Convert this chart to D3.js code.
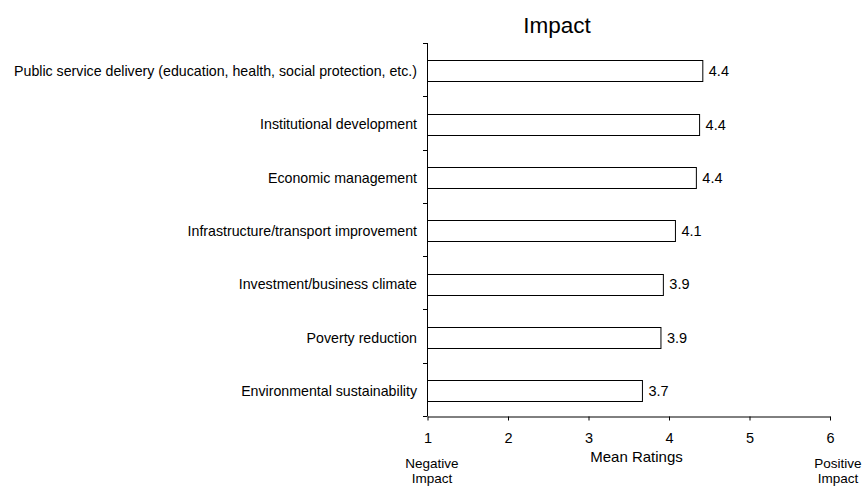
<!DOCTYPE html>
<html><head><meta charset="utf-8">
<script src="https://cdn.jsdelivr.net/npm/d3@7"></script>
<style>body{margin:0;background:#fff;}svg{display:block;font-family:"Liberation Sans",Arial,sans-serif;}</style>
</head><body><svg id="c" width="865" height="487"></svg>
<script>
const categories = [
  "Public service delivery (education, health, social protection, etc.)",
  "Institutional development",
  "Economic management",
  "Infrastructure/transport improvement",
  "Investment/business climate",
  "Poverty reduction",
  "Environmental sustainability"
];
const values = [4.42, 4.38, 4.34, 4.08, 3.93, 3.90, 3.67];
const valueLabels = ["4.4", "4.4", "4.4", "4.1", "3.9", "3.9", "3.7"];
const xTicks = [1, 2, 3, 4, 5, 6];
const title = "Impact";
const xTitle = "Mean Ratings";
const leftNote = ["Negative", "Impact"];
const rightNote = ["Positive", "Impact"];

const svg = d3.select("#c");
const x = d3.scaleLinear().domain([1, 6]).range([427.5, 830]);
const y = d3.scaleBand().domain(categories).range([43, 416]).paddingInner(0.6).paddingOuter(0.3);
const step = y.step();
const y0 = 43, y1 = 416;

// bars
svg.append("g").selectAll("rect").data(categories).join("rect")
  .attr("x", x(1))
  .attr("y", d => Math.round(y(d) + 1.5) + 0.5)
  .attr("width", (d, i) => x(values[i]) - x(1))
  .attr("height", Math.round(y.bandwidth()))
  .attr("fill", "#fff").attr("stroke", "#000").attr("stroke-width", 1);

// value labels
svg.append("g").selectAll("text").data(categories).join("text")
  .attr("x", (d, i) => x(values[i]) + 6)
  .attr("y", d => y(d) + 1.5 + y.bandwidth() / 2)
  .attr("dy", "0.35em")
  .attr("font-size", 14.5)
  .text((d, i) => valueLabels[i]);

// y axis line and ticks at band boundaries
const yAxis = svg.append("g").attr("stroke", "#000");
yAxis.append("line").attr("x1", 427.5).attr("x2", 427.5).attr("y1", y0).attr("y2", y1);
d3.range(categories.length + 1).forEach(i => {
  const yy = Math.round(y0 + i * step) + 0.5;
  yAxis.append("line").attr("x1", 423).attr("x2", 427.5).attr("y1", yy).attr("y2", yy);
});

// category labels
svg.append("g").selectAll("text").data(categories).join("text")
  .attr("x", 417)
  .attr("y", d => y(d) + 1.5 + y.bandwidth() / 2)
  .attr("dy", "0.35em")
  .attr("text-anchor", "end")
  .attr("font-size", 14.2)
  .text(d => d);

// x axis
const xAxis = d3.axisBottom(x).tickValues(xTicks).tickFormat(d3.format("d")).tickSize(4).tickSizeOuter(0).tickPadding(12.5);
const gx = svg.append("g").attr("transform", "translate(0,416.5)").call(xAxis);
gx.select(".domain").attr("stroke", "#000");
gx.selectAll(".tick line").attr("stroke", "#000");
gx.selectAll(".tick text").attr("font-size", 14.5).attr("font-family", "Liberation Sans, Arial, sans-serif").attr("fill", "#000");

// titles
svg.append("text").attr("x", 557).attr("y", 33).attr("text-anchor", "middle").attr("font-size", 22.5).text(title);
svg.append("text").attr("x", 636.5).attr("y", 461.5).attr("text-anchor", "middle").attr("font-size", 15).text(xTitle);
const ln = svg.append("text").attr("text-anchor", "middle").attr("font-size", 13.5);
leftNote.forEach((t, i) => ln.append("tspan").attr("x", 432).attr("y", 468 + i * 15.2).text(t));
const rn = svg.append("text").attr("text-anchor", "middle").attr("font-size", 13.5);
rightNote.forEach((t, i) => rn.append("tspan").attr("x", 838).attr("y", 468 + i * 15.2).text(t));
</script></body></html>
